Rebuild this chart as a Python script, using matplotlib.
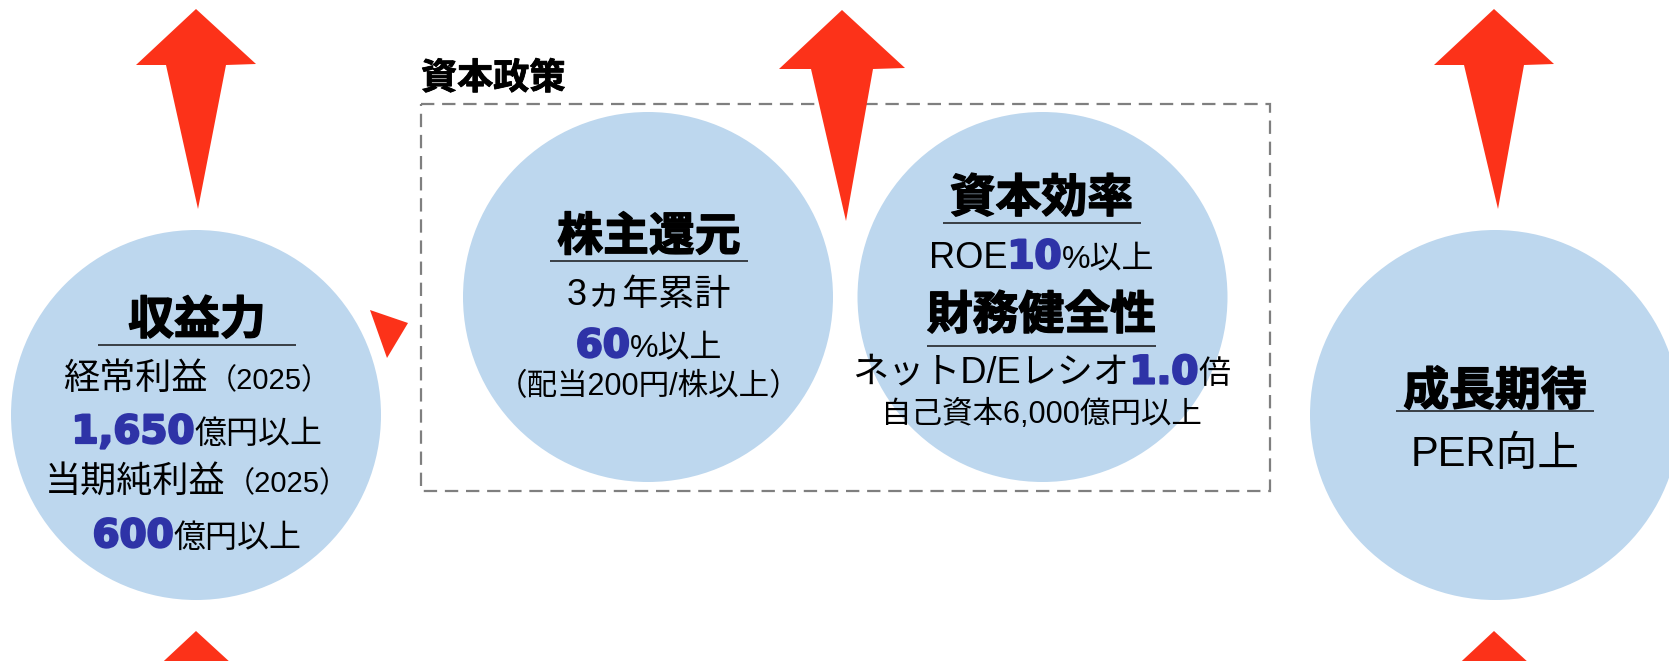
import matplotlib
matplotlib.use("Agg")
import matplotlib.pyplot as plt
import matplotlib.patheffects as pe
from matplotlib.patches import Circle, Polygon, Rectangle

W, H = 1669, 661
DPI = 100

FILL = "#BDD7EE"
RED = "#FC3219"
NAVY = "#2E33A7"
GREY = "#7F7F7F"
INK = "#000000"
RULE = "#2F3338"

plt.rcParams["font.family"] = ["Liberation Sans", "Noto Sans CJK JP", "DejaVu Sans"]

# ---- text content -------------------------------------------------------
box_title = "資本政策"

profit_head = "収益力"
profit_lines = [
    [("経常利益", "txt"), ("（2025）", "sub")],
    [("1,650", "num"), ("億円以上", "unit")],
    [("当期純利益", "txt"), ("（2025）", "sub")],
    [("600", "num"), ("億円以上", "unit")],
]

returns_head = "株主還元"
returns_lines = [
    [("3ヵ年累計", "txt")],
    [("60", "num"), ("%以上", "unit")],
    [("（配当200円/株以上）", "small")],
]

efficiency_head = "資本効率"
efficiency_lines = [
    [("ROE", "txt"), ("10", "num"), ("%以上", "unit")],
]

soundness_head = "財務健全性"
soundness_lines = [
    [("ネットD/Eレシオ", "txt"), ("1.0", "num"), ("倍", "unit")],
    [("自己資本6,000億円以上", "small")],
]

growth_head = "成長期待"
growth_lines = [
    [("PER向上", "lead")],
]

HEAVY = [pe.withStroke(linewidth=1.0, foreground=INK)]
HEAVY_NUM = [pe.withStroke(linewidth=1.6, foreground=NAVY)]

STYLE = {
    "head": dict(fontsize=33, fontweight="bold", family=["Noto Sans CJK JP"], color=INK,
                 path_effects=HEAVY),
    "title": dict(fontsize=26, fontweight="bold", family=["Noto Sans CJK JP"], color=INK,
                  path_effects=[pe.withStroke(linewidth=0.6, foreground=INK)]),
    "txt": dict(fontsize=26, color=INK),
    "sub": dict(fontsize=21, color=INK),
    "num": dict(fontsize=28, fontweight="bold", family=["DejaVu Sans"], color=NAVY,
                path_effects=HEAVY_NUM),
    "unit": dict(fontsize=23, color=INK),
    "small": dict(fontsize=22, color=INK),
    "lead": dict(fontsize=30, color=INK),
}


def text_line(ax, renderer, cx, base, runs):
    parts = [ax.text(0, base, s, ha="left", va="baseline", zorder=5, **STYLE[k]) for s, k in runs]
    widths = [p.get_window_extent(renderer).width for p in parts]
    x = cx - sum(widths) / 2
    for p, w in zip(parts, widths):
        p.set_x(x)
        x += w
    return sum(widths)


def block(ax, renderer, cx, head, head_base, rule_y, lines, bases, min_rule=198):
    w = text_line(ax, renderer, cx, head_base, [(head, "head")])
    half = max(min_rule, w) / 2
    ax.plot([cx - half, cx + half], [rule_y, rule_y], color=RULE, lw=1.3, zorder=5,
            solid_capstyle="butt")
    for runs, b in zip(lines, bases):
        text_line(ax, renderer, cx, b, runs)


def up_arrow(ax, tip_x, tip_y, lean=2, head_h=56, head_w=60, neck_w=30, length=200):
    pts = [
        (tip_x, tip_y),
        (tip_x + head_w, tip_y + head_h - 1),
        (tip_x + neck_w, tip_y + head_h),
        (tip_x + lean, tip_y + length),
        (tip_x - neck_w, tip_y + head_h),
        (tip_x - head_w, tip_y + head_h),
    ]
    ax.add_patch(Polygon(pts, closed=True, fc=RED, ec="none", zorder=4))


fig = plt.figure(figsize=(W / DPI, H / DPI), dpi=DPI)
ax = fig.add_axes([0, 0, 1, 1])
ax.set_xlim(0, W)
ax.set_ylim(H, 0)
ax.axis("off")
renderer = fig.canvas.get_renderer()

# circles
for cx, cy in [(196, 415), (648, 297), (1042.5, 297), (1495, 415)]:
    ax.add_patch(Circle((cx, cy), 185, fc=FILL, ec="none", zorder=1))

# dashed frame of the capital-policy group
ax.add_patch(Rectangle((421, 103.5), 849, 387, fill=False, ec=GREY, lw=1.6,
                       ls=(0, (6, 3.5)), zorder=2))
ax.text(421, 89, box_title, ha="left", va="baseline", zorder=5, **STYLE["title"])

# red arrows
up_arrow(ax, 196, 9, lean=2, head_w=60, neck_w=30, length=200)
up_arrow(ax, 1494, 9, lean=4, head_w=60, neck_w=30, length=200)
up_arrow(ax, 842, 10, lean=4, head_h=59, head_w=63, neck_w=31, length=211)
up_arrow(ax, 196, 631, lean=2, head_w=60, neck_w=30, length=200)
up_arrow(ax, 1494, 631, lean=4, head_w=60, neck_w=30, length=200)
ax.add_patch(Polygon([(370, 310), (408, 323), (387, 358)], closed=True, fc=RED, ec="none",
                     zorder=4))

# text blocks
block(ax, renderer, 197, profit_head, 334, 345, profit_lines, [389, 443, 492, 547])
block(ax, renderer, 649, returns_head, 250.5, 261, returns_lines, [305, 357, 395])
block(ax, renderer, 1041.5, efficiency_head, 212, 223, efficiency_lines, [268])
block(ax, renderer, 1041.5, soundness_head, 329, 346, soundness_lines, [383.5, 423])
block(ax, renderer, 1495, growth_head, 405, 411, growth_lines, [466])

fig.savefig("out.png", dpi=DPI)
